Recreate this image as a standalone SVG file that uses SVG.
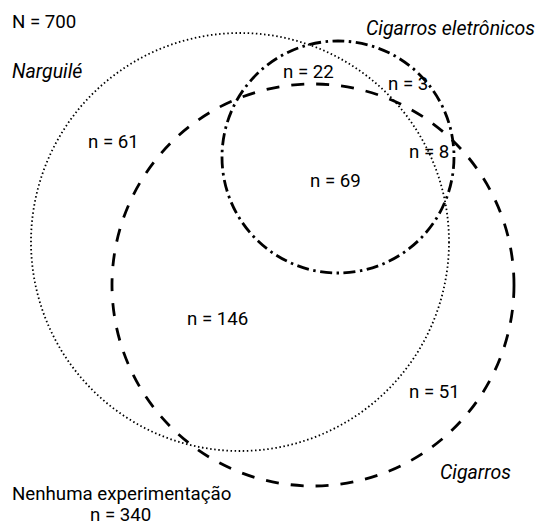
<svg xmlns="http://www.w3.org/2000/svg" width="536" height="525" viewBox="0 0 536 525">
<style>
.t{font-family:Roboto,"Liberation Sans",sans-serif;font-size:18.7px;fill:#000}
.i{font-style:italic;font-size:19.5px}
.c{fill:none;stroke:#000}
.dot{stroke-width:1.8;stroke-dasharray:1.5 2.6}
.dash{stroke-width:2.8;stroke-dasharray:13 12}
.dd{stroke-width:2.8;stroke-dasharray:12 4.5 2.5 4.5}
</style>
<rect width="536" height="525" fill="#fff"/>
<g id="sets">
<circle id="narguile" class="c dot" cx="240" cy="242" r="209"/>
<circle id="cigarros" class="c dash" cx="313" cy="285" r="201"/>
<circle id="eletronicos" class="c dd" cx="338" cy="157" r="116"/>
</g>
<g id="labels">
<text class="t" x="12" y="28">N = 700</text>
<text class="t i" x="12" y="78">Narguilé</text>
<text class="t i" x="366" y="35">Cigarros eletrônicos</text>
<text class="t i" x="440" y="479">Cigarros</text>
<text class="t" x="12" y="500">Nenhuma experimentação</text>
<text class="t" x="90" y="521">n = 340</text>
</g>
<g id="counts">
<text class="t" x="88" y="148">n = 61</text>
<text class="t" x="283" y="78">n = 22</text>
<text class="t" x="388" y="90">n = 3</text>
<text class="t" x="409" y="158">n = 8</text>
<text class="t" x="310" y="187">n = 69</text>
<text class="t" x="187" y="325">n = 146</text>
<text class="t" x="409" y="398">n = 51</text>
</g>
</svg>
